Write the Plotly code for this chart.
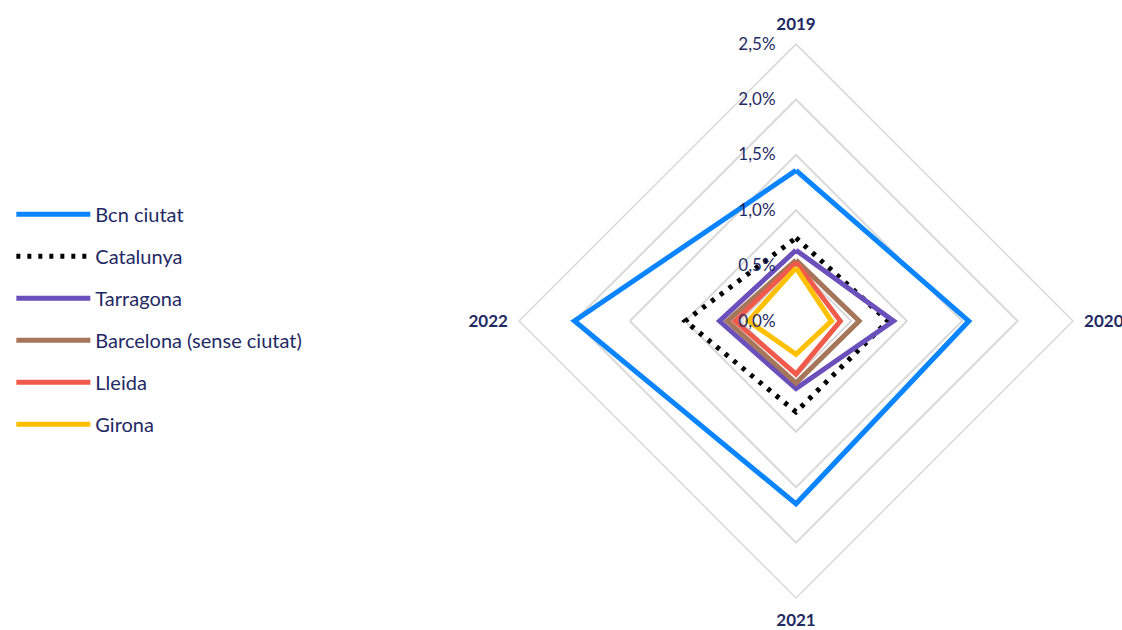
import plotly.graph_objects as go

years = ["2019", "2020", "2021", "2022"]

bcn_ciutat = [0.0136, 0.0156, 0.0165, 0.0200]
catalunya = [0.0075, 0.0083, 0.0082, 0.0100]
tarragona = [0.0064, 0.0088, 0.0061, 0.0069]
barcelona_sense = [0.0055, 0.0057, 0.0056, 0.0062]
lleida = [0.0053, 0.0040, 0.0048, 0.0055]
girona = [0.0048, 0.0032, 0.0030, 0.0043]

series = [
    ("Bcn ciutat", bcn_ciutat, "#0A84FF", "solid"),
    ("Catalunya", catalunya, "#000000", "4px,7px"),
    ("Tarragona", tarragona, "#6B4FBB", "solid"),
    ("Barcelona (sense ciutat)", barcelona_sense, "#A5765A", "solid"),
    ("Lleida", lleida, "#F05A4B", "solid"),
    ("Girona", girona, "#FFC000", "solid"),
]

TEXT = "#1F2A64"
FONT = "Lato, 'Open Sans', sans-serif"

fig = go.Figure()

for name, vals, color, dash in series:
    # close the polygon
    fig.add_trace(go.Scatterpolar(
        r=vals + vals[:1],
        theta=years + years[:1],
        mode="lines",
        name=name,
        legendgroup=name,
        line=dict(color=color, width=5, dash=dash),
    ))

fig.update_layout(
    width=1122,
    height=630,
    paper_bgcolor="white",
    margin=dict(l=0, r=0, t=0, b=0),
    separators=",.",
    font=dict(family=FONT, color=TEXT, size=15),
    showlegend=True,
    legend=dict(
        x=0.0101, y=0.4933, xanchor="left", yanchor="middle",
        font=dict(family=FONT, size=20, color=TEXT),
        tracegroupgap=13,
        itemwidth=74,
        bgcolor="rgba(0,0,0,0)",
    ),
    polar=dict(
        domain=dict(x=[0.4626, 0.9563], y=[0.0508, 0.930]),
        bgcolor="white",
        gridshape="linear",
        radialaxis=dict(
            range=[0, 0.025],
            dtick=0.005,
            tickformat=".1%",
            angle=90,
            side="counterclockwise",
            tickangle=90,
            showline=False,
            ticks="outside",
            ticklen=14,
            tickcolor="rgba(0,0,0,0)",
            gridcolor="#D9D9D9",
            gridwidth=1.5,
            tickfont=dict(family=FONT, size=17, color=TEXT),
        ),
        angularaxis=dict(
            direction="clockwise",
            rotation=90,
            showgrid=False,
            showline=True,
            linecolor="#D9D9D9",
            linewidth=1.5,
            ticks="outside",
            ticklen=7,
            tickcolor="rgba(0,0,0,0)",
            tickfont=dict(family=FONT, size=17, color=TEXT, weight="bold"),
        ),
    ),
)

# page body has a default margin; drop it so the figure fills the window
fig.write_html(
    "out.html",
    config={"displayModeBar": False},
    post_script="document.body.style.margin='0';",
)
